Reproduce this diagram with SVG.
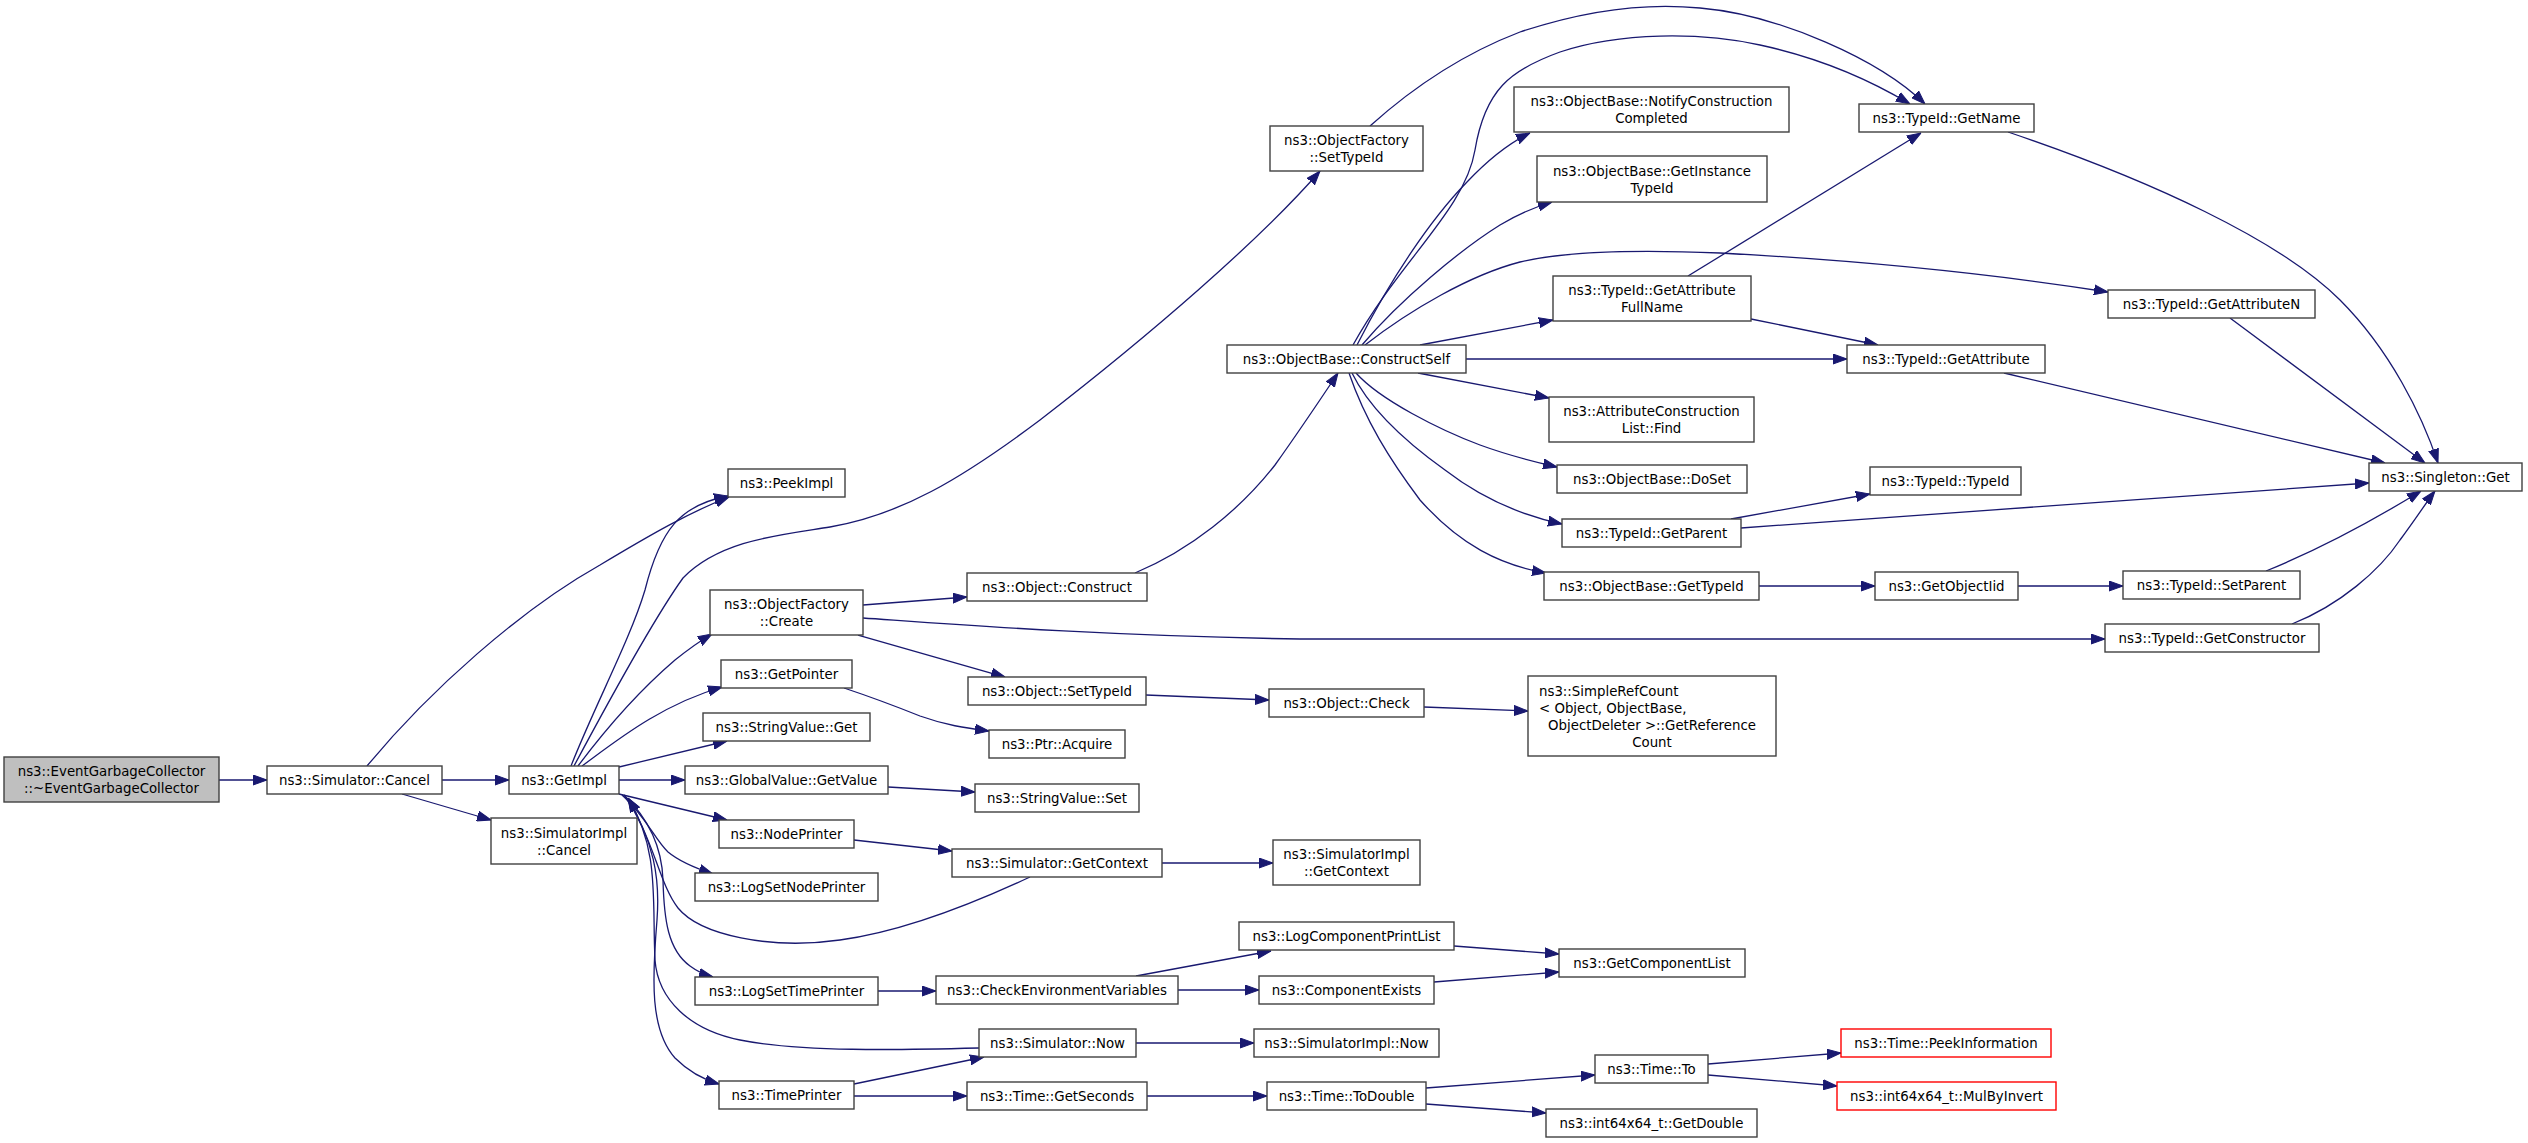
<svg xmlns="http://www.w3.org/2000/svg" width="2528" height="1143" viewBox="0 0 2528 1143">
<defs>
<marker id="a" markerUnits="userSpaceOnUse" markerWidth="14" markerHeight="11" viewBox="0 0 14 10" refX="14" refY="5" orient="auto">
<path d="M0,0 L14,5 L0,10 z" fill="#191970" stroke="#191970" stroke-width="1"/>
</marker>
<style>
.n rect{fill:#ffffff;stroke:#404040;stroke-width:1.4}
.root rect{fill:#bfbfbf}
.red rect{stroke:#ff0000}
text{font-family:"DejaVu Sans","Liberation Sans",sans-serif;font-size:13.33px;fill:#000000;text-anchor:middle}
text.l{text-anchor:start}
.e path{fill:none;stroke:#191970;stroke-width:1.3;marker-end:url(#a)}
</style>
</defs>
<rect x="0" y="0" width="2528" height="1143" fill="#ffffff"/>
<g id="edges" class="e">
<path d="M219,780 L267,780"/>
<path d="M367,766 C430,690 520,610 600,565 C650,535 690,512 729,497"/>
<path d="M442,780 L509,780"/>
<path d="M402,794 L491,820"/>
<path d="M571,766 C595,705 630,640 645,590 C660,530 680,505 728,496"/>
<path d="M574,766 C620,680 660,610 683,578 C720,540 780,535 830,527 C900,515 960,480 1040,420 C1150,335 1260,240 1320,171"/>
<path d="M578,766 C605,730 640,690 675,660 C690,648 700,641 712,634"/>
<path d="M582,766 C615,742 660,705 722,687"/>
<path d="M619,767 L727,741"/>
<path d="M619,780 L685,780"/>
<path d="M619,794 L727,820"/>
<path d="M622,795 C645,815 655,840 668,852 C680,862 695,868 713,874"/>
<path d="M1030,877 C970,905 900,932 840,940 C770,950 700,935 678,908 C660,885 655,845 628,798"/>
<path d="M624,795 C650,820 662,850 663,880 C664,920 668,950 690,966 C698,972 705,975 713,977"/>
<path d="M979,1048 C900,1050 800,1052 740,1040 C690,1030 658,1000 655,960 C652,900 660,850 628,798"/>
<path d="M624,795 C655,840 660,880 657,920 C652,980 650,1030 675,1058 C690,1073 705,1080 719,1084"/>
<path d="M863,605 L967,597"/>
<path d="M863,618 C950,624 1100,636 1300,639 L2105,639"/>
<path d="M858,635 L1005,677"/>
<path d="M844,688 C880,700 900,708 920,716 C945,725 965,728 989,731"/>
<path d="M888,787 L975,792"/>
<path d="M854,840 L952,851"/>
<path d="M1162,863 L1273,863"/>
<path d="M878,991 L936,991"/>
<path d="M1136,976 L1271,951"/>
<path d="M1178,990 L1259,990"/>
<path d="M1454,946 L1559,954"/>
<path d="M1434,982 L1559,972"/>
<path d="M1136,1043 L1254,1043"/>
<path d="M854,1084 L984,1057"/>
<path d="M854,1096 L967,1096"/>
<path d="M1147,1096 L1267,1096"/>
<path d="M1426,1088 L1595,1075"/>
<path d="M1426,1104 L1546,1113"/>
<path d="M1708,1064 L1841,1053"/>
<path d="M1708,1075 L1837,1086"/>
<path d="M1135,573 C1190,550 1240,510 1275,465 C1300,430 1320,400 1338,373"/>
<path d="M1146,695 L1269,700"/>
<path d="M1424,707 L1528,711"/>
<path d="M1370,126 C1410,90 1460,55 1520,32 C1580,12 1640,2 1700,8 C1780,15 1880,60 1925,104"/>
<path d="M1353,345 C1400,260 1465,210 1475,150 C1485,90 1510,70 1560,52 C1620,32 1700,32 1760,45 C1820,58 1870,80 1910,104"/>
<path d="M1357,345 C1390,280 1430,220 1467,182 C1485,163 1505,145 1530,133"/>
<path d="M1362,345 C1400,300 1460,250 1500,225 C1520,213 1535,207 1552,202"/>
<path d="M1365,345 C1410,310 1470,275 1520,262 C1570,250 1650,250 1720,253 C1850,260 1980,272 2108,292"/>
<path d="M1420,345 L1553,320"/>
<path d="M1466,359 L1847,359"/>
<path d="M1418,373 L1549,398"/>
<path d="M1356,373 C1380,400 1440,430 1480,445 C1510,456 1535,462 1557,467"/>
<path d="M1352,373 C1370,410 1410,445 1445,470 C1480,497 1520,515 1562,524"/>
<path d="M1349,373 C1365,420 1390,460 1420,500 C1460,545 1500,565 1546,573"/>
<path d="M1688,276 L1921,133"/>
<path d="M1751,319 L1878,345"/>
<path d="M2008,132 C2150,180 2280,240 2340,300 C2390,350 2422,415 2438,463"/>
<path d="M2230,318 L2425,463"/>
<path d="M2004,373 L2385,463"/>
<path d="M1731,519 L1870,494"/>
<path d="M1741,528 L2369,483"/>
<path d="M1759,586 L1875,586"/>
<path d="M2018,586 L2123,586"/>
<path d="M2266,571 C2330,545 2390,510 2421,491"/>
<path d="M2292,624 C2340,605 2380,570 2400,540 C2415,520 2428,500 2435,491"/>
</g>
<g id="n_egc" class="n root"><rect x="4" y="757" width="215" height="45"/><text x="111.5" y="776">ns3::EventGarbageCollector</text><text x="111.5" y="793">::~EventGarbageCollector</text></g>
<g id="n_cancel" class="n"><rect x="267" y="766" width="175" height="28"/><text x="354.5" y="785">ns3::Simulator::Cancel</text></g>
<g id="n_getimpl" class="n"><rect x="509" y="766" width="110" height="28"/><text x="564" y="785">ns3::GetImpl</text></g>
<g id="n_simimplcancel" class="n"><rect x="491" y="818" width="146" height="46"/><text x="564" y="837.5">ns3::SimulatorImpl</text><text x="564" y="854.5">::Cancel</text></g>
<g id="n_peekimpl" class="n"><rect x="728" y="469" width="117" height="28"/><text x="786.5" y="488">ns3::PeekImpl</text></g>
<g id="n_create" class="n"><rect x="710" y="590" width="153" height="45"/><text x="786.5" y="609">ns3::ObjectFactory</text><text x="786.5" y="626">::Create</text></g>
<g id="n_getpointer" class="n"><rect x="721" y="660" width="131" height="28"/><text x="786.5" y="679">ns3::GetPointer</text></g>
<g id="n_svget" class="n"><rect x="703" y="713" width="167" height="28"/><text x="786.5" y="732">ns3::StringValue::Get</text></g>
<g id="n_gvget" class="n"><rect x="685" y="766" width="203" height="28"/><text x="786.5" y="785">ns3::GlobalValue::GetValue</text></g>
<g id="n_nodeprinter" class="n"><rect x="719" y="820" width="135" height="28"/><text x="786.5" y="839">ns3::NodePrinter</text></g>
<g id="n_logsetnode" class="n"><rect x="695" y="873" width="183" height="28"/><text x="786.5" y="892">ns3::LogSetNodePrinter</text></g>
<g id="n_logsettime" class="n"><rect x="695" y="977" width="183" height="28"/><text x="786.5" y="996">ns3::LogSetTimePrinter</text></g>
<g id="n_timeprinter" class="n"><rect x="719" y="1081" width="135" height="28"/><text x="786.5" y="1100">ns3::TimePrinter</text></g>
<g id="n_ofsettypeid" class="n"><rect x="1270" y="126" width="153" height="45"/><text x="1346.5" y="145">ns3::ObjectFactory</text><text x="1346.5" y="162">::SetTypeId</text></g>
<g id="n_constructself" class="n"><rect x="1227" y="345" width="239" height="28"/><text x="1346.5" y="364">ns3::ObjectBase::ConstructSelf</text></g>
<g id="n_construct" class="n"><rect x="967" y="573" width="180" height="28"/><text x="1057" y="592">ns3::Object::Construct</text></g>
<g id="n_osettypeid" class="n"><rect x="968" y="677" width="178" height="28"/><text x="1057" y="696">ns3::Object::SetTypeId</text></g>
<g id="n_acquire" class="n"><rect x="989" y="730" width="136" height="28"/><text x="1057" y="749">ns3::Ptr::Acquire</text></g>
<g id="n_svset" class="n"><rect x="975" y="784" width="164" height="28"/><text x="1057" y="803">ns3::StringValue::Set</text></g>
<g id="n_getcontext" class="n"><rect x="952" y="849" width="210" height="28"/><text x="1057" y="868">ns3::Simulator::GetContext</text></g>
<g id="n_checkenv" class="n"><rect x="936" y="976" width="242" height="28"/><text x="1057" y="995">ns3::CheckEnvironmentVariables</text></g>
<g id="n_now" class="n"><rect x="979" y="1029" width="157" height="28"/><text x="1057.5" y="1048">ns3::Simulator::Now</text></g>
<g id="n_getseconds" class="n"><rect x="967" y="1082" width="180" height="28"/><text x="1057" y="1101">ns3::Time::GetSeconds</text></g>
<g id="n_check" class="n"><rect x="1269" y="689" width="155" height="28"/><text x="1346.5" y="708">ns3::Object::Check</text></g>
<g id="n_simimplctx" class="n"><rect x="1273" y="840" width="147" height="45"/><text x="1346.5" y="859">ns3::SimulatorImpl</text><text x="1346.5" y="876">::GetContext</text></g>
<g id="n_logcomp" class="n"><rect x="1239" y="922" width="215" height="28"/><text x="1346.5" y="941">ns3::LogComponentPrintList</text></g>
<g id="n_compexists" class="n"><rect x="1259" y="976" width="175" height="28"/><text x="1346.5" y="995">ns3::ComponentExists</text></g>
<g id="n_simimplnow" class="n"><rect x="1254" y="1029" width="185" height="28"/><text x="1346.5" y="1048">ns3::SimulatorImpl::Now</text></g>
<g id="n_todouble" class="n"><rect x="1267" y="1082" width="159" height="28"/><text x="1346.5" y="1101">ns3::Time::ToDouble</text></g>
<g id="n_notify" class="n"><rect x="1514" y="87" width="275" height="45"/><text x="1651.5" y="106">ns3::ObjectBase::NotifyConstruction</text><text x="1651.5" y="123">Completed</text></g>
<g id="n_instance" class="n"><rect x="1537" y="156" width="230" height="46"/><text x="1652" y="175.5">ns3::ObjectBase::GetInstance</text><text x="1652" y="192.5">TypeId</text></g>
<g id="n_fullname" class="n"><rect x="1553" y="276" width="198" height="45"/><text x="1652" y="295">ns3::TypeId::GetAttribute</text><text x="1652" y="312">FullName</text></g>
<g id="n_find" class="n"><rect x="1549" y="397" width="205" height="45"/><text x="1651.5" y="416">ns3::AttributeConstruction</text><text x="1651.5" y="433">List::Find</text></g>
<g id="n_doset" class="n"><rect x="1557" y="465" width="190" height="28"/><text x="1652" y="484">ns3::ObjectBase::DoSet</text></g>
<g id="n_getparent" class="n"><rect x="1562" y="519" width="179" height="28"/><text x="1651.5" y="538">ns3::TypeId::GetParent</text></g>
<g id="n_obgettypeid" class="n"><rect x="1544" y="572" width="215" height="28"/><text x="1651.5" y="591">ns3::ObjectBase::GetTypeId</text></g>
<g id="n_refcount" class="n"><rect x="1528" y="676" width="248" height="80"/><text class="l" x="1539" y="695.5">ns3::SimpleRefCount</text><text class="l" x="1539" y="712.5">&lt; Object, ObjectBase,</text><text x="1652" y="729.5"> ObjectDeleter &gt;::GetReference</text><text x="1652" y="746.5">Count</text></g>
<g id="n_complist" class="n"><rect x="1559" y="949" width="186" height="28"/><text x="1652" y="968">ns3::GetComponentList</text></g>
<g id="n_to" class="n"><rect x="1595" y="1055" width="113" height="28"/><text x="1651.5" y="1074">ns3::Time::To</text></g>
<g id="n_getdouble" class="n"><rect x="1546" y="1109" width="211" height="28"/><text x="1651.5" y="1128">ns3::int64x64_t::GetDouble</text></g>
<g id="n_getname" class="n"><rect x="1859" y="104" width="175" height="28"/><text x="1946.5" y="123">ns3::TypeId::GetName</text></g>
<g id="n_getattr" class="n"><rect x="1847" y="345" width="198" height="28"/><text x="1946" y="364">ns3::TypeId::GetAttribute</text></g>
<g id="n_typeid" class="n"><rect x="1870" y="467" width="151" height="28"/><text x="1945.5" y="486">ns3::TypeId::TypeId</text></g>
<g id="n_objiid" class="n"><rect x="1875" y="572" width="143" height="28"/><text x="1946.5" y="591">ns3::GetObjectIid</text></g>
<g id="n_peekinfo" class="n red"><rect x="1841" y="1029" width="210" height="28"/><text x="1946" y="1048">ns3::Time::PeekInformation</text></g>
<g id="n_mulbyinv" class="n red"><rect x="1837" y="1082" width="219" height="28"/><text x="1946.5" y="1101">ns3::int64x64_t::MulByInvert</text></g>
<g id="n_getattrn" class="n"><rect x="2108" y="290" width="207" height="28"/><text x="2211.5" y="309">ns3::TypeId::GetAttributeN</text></g>
<g id="n_setparent" class="n"><rect x="2123" y="571" width="177" height="28"/><text x="2211.5" y="590">ns3::TypeId::SetParent</text></g>
<g id="n_getctor" class="n"><rect x="2105" y="624" width="214" height="28"/><text x="2212" y="643">ns3::TypeId::GetConstructor</text></g>
<g id="n_singleton" class="n"><rect x="2369" y="463" width="153" height="28"/><text x="2445.5" y="482">ns3::Singleton::Get</text></g>
</svg>
